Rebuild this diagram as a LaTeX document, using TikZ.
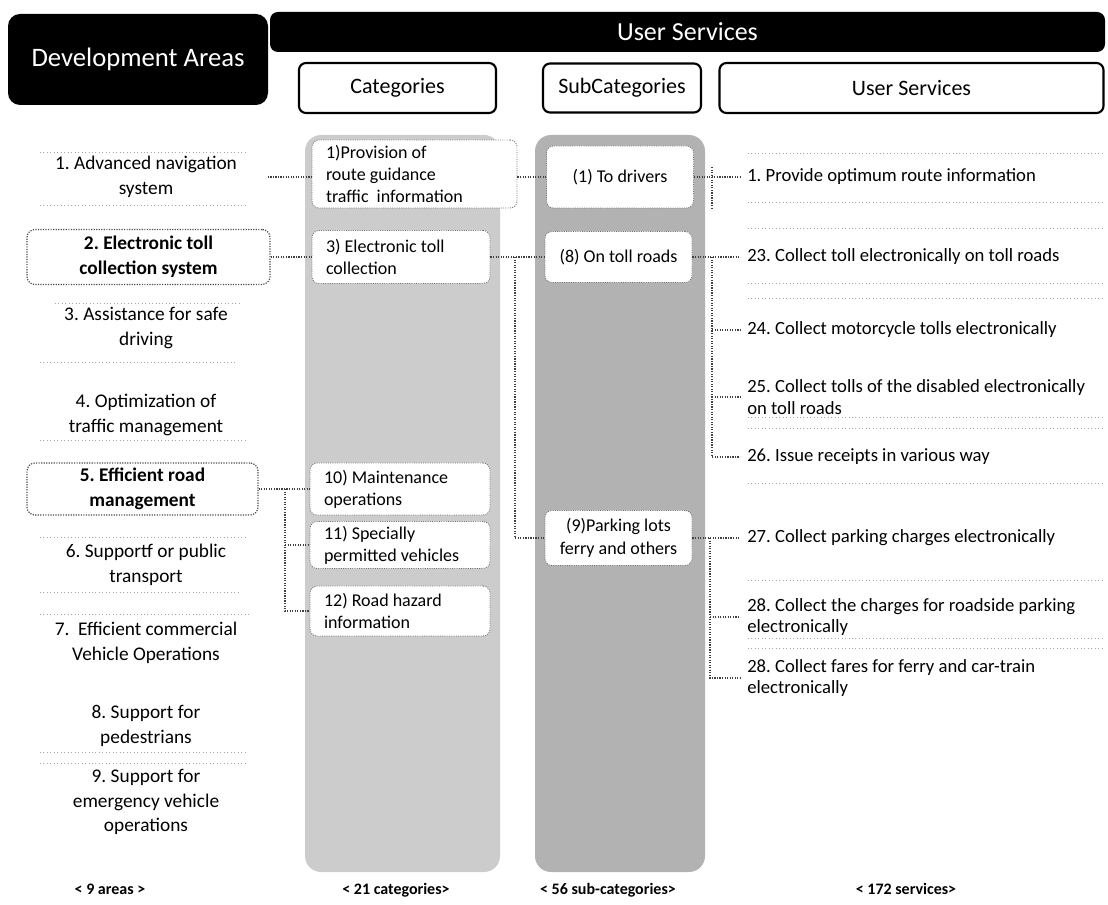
\documentclass[tikz,border=0pt]{standalone}
\usepackage{fontspec}
\setmainfont{Carlito}
\AtBeginDocument{\frenchspacing}
\newlength\pxu \setlength\pxu{0.75pt}
\definecolor{colA}{gray}{0.80}
\definecolor{colB}{gray}{0.70}
\begin{document}
\begin{tikzpicture}[x=0.75pt,y=-0.75pt,
  darkbox/.style={fill=black, text=white, inner sep=0pt},
  colhead/.style={draw=black, line width=1.6pt, fill=white, rounded corners=7\pxu,
    inner sep=0pt, font=\fontsize{16.5}{19}\selectfont},
  area/.style={minimum width=243\pxu, inner sep=0pt, align=center,
    font=\fontsize{14.5}{18.5}\selectfont},
  framed/.style={draw=black!70, densely dotted, line width=0.9pt, fill=white,
    rounded corners=8\pxu},
  cat/.style={fill=white, draw=black!55, densely dotted, line width=0.7pt,
    rounded corners=7\pxu, align=flush left, inner xsep=14\pxu, inner ysep=0pt,
    font=\fontsize{13.5}{16.5}\selectfont},
  sub/.style={fill=white, draw=black!55, densely dotted, line width=0.7pt,
    rounded corners=7\pxu, align=center, inner sep=0pt, minimum width=147\pxu,
    font=\fontsize{13.5}{17}\selectfont},
  svc/.style={anchor=west, align=flush left, inner xsep=7\pxu, inner ysep=0pt,
    font=\fontsize{14}{16}\selectfont},
  count/.style={font=\bfseries\fontsize{12}{14}\selectfont},
  link/.style={draw=black!75, densely dotted, line width=0.9pt},
  scan/.style={draw=black!35, dotted, line width=0.6pt}
]
\useasboundingbox (0,0) rectangle (1108,905);

% shaded columns behind categories and sub-categories
\fill[colA, rounded corners=16\pxu] (305,135) rectangle (500,872);
\fill[colB, rounded corners=16\pxu] (535,135) rectangle (705,872);

% title bars and column heads
\node[darkbox, rounded corners=12\pxu, minimum width=260\pxu, minimum height=91\pxu,
  font=\fontsize{20}{24}\selectfont] (dev) at (138,59.5) {Development Areas};
\node[darkbox, rounded corners=8\pxu, minimum width=835\pxu, minimum height=40\pxu,
  font=\fontsize{19.5}{23}\selectfont] (usr) at (687.5,32) {User Services};
\node[colhead, minimum width=197\pxu, minimum height=50\pxu] (hcat) at (397.5,88) {Categories};
\node[colhead, minimum width=158\pxu, minimum height=49\pxu] (hsub) at (622,88) {SubCategories};
\node[colhead, minimum width=384\pxu, minimum height=50\pxu] (hsvc) at (911.5,88) {User Services};

% development areas
\node[area] (d1) at (146,177) {1. Advanced navigation\\system};
\node[area, framed, minimum height=55\pxu] (d2) at (148.5,257)
  {\bfseries 2. Electronic toll\\\bfseries collection system};
\node[area] (d3) at (146,328) {3. Assistance for safe\\driving};
\node[area] (d4) at (146,415) {4. Optimization of\\traffic management};
\node[area, framed, minimum width=231\pxu, minimum height=52\pxu] (d5) at (142.5,489)
  {\bfseries 5. Efficient road\\\bfseries management};
\node[area] (d6) at (146,565) {6. Supportf or public\\transport};
\node[area] (d7) at (146,643) {7.~ Efficient commercial\\Vehicle Operations};
\node[area] (d8) at (146,726) {8. Support for\\pedestrians};
\node[area] (d9) at (146,802) {9. Support for\\emergency vehicle\\operations};

% categories
\node[cat, text width=177\pxu, minimum height=68\pxu] (c1) at (414.5,174)
  {1)Provision of\\route guidance\\traffic~ information};
\node[cat, text width=150\pxu, minimum height=53\pxu] (c3) at (401,257)
  {3) Electronic toll\\collection};
\node[cat, text width=152\pxu, minimum height=52\pxu] (c10) at (400,489)
  {10) Maintenance\\operations};
\node[cat, text width=152\pxu, minimum height=47\pxu] (c11) at (400,545)
  {11) Specially\\permitted vehicles};
\node[cat, text width=152\pxu, minimum height=50\pxu] (c12) at (400,611)
  {12) Road hazard\\information};

% sub-categories
\node[sub, minimum height=62\pxu] (s1) at (620,177) {(1) To drivers};
\node[sub, minimum height=51\pxu] (s8) at (618.5,257) {(8) On toll roads};
\node[sub, minimum height=55\pxu] (s9) at (618.5,538) {(9)Parking lots\\ferry and others};

% user services
\node[svc] (u1)  at (740,177) {1. Provide optimum route information};
\node[svc] (u23) at (740,257) {23. Collect toll electronically on toll roads};
\node[svc] (u24) at (740,330) {24. Collect motorcycle tolls electronically};
\node[svc] (u25) at (740,397) {25. Collect tolls of the disabled electronically\\on toll roads};
\node[svc] (u26) at (740,457) {26. Issue receipts in various way};
\node[svc] (u27) at (740,538) {27. Collect parking charges electronically};
\node[svc] (u28a) at (740,617) {28. Collect the charges for roadside parking\\electronically};
\node[svc] (u28b) at (740,678) {28. Collect fares for ferry and car-train\\electronically};

% totals
\node[count] (n1) at (110,889) {< 9 areas >};
\node[count] (n2) at (396,890) {< 21 categories>};
\node[count] (n3) at (608,890) {< 56 sub-categories>};
\node[count] (n4) at (906,889) {< 172 services>};

% connectors: areas to categories
\draw[link] (d1.east) -- (d1.east -| c1.west);
\draw[link] (d2.east) -- (c3.west);
\coordinate (j5) at (285,489);
\draw[link] (d5.east) -- (c10.west);
\draw[link] (j5) |- (c12.west);
\draw[link] (c11.west -| j5) -- (c11.west);

% connectors: categories to sub-categories
\draw[link] (s1.west -| c1.east) -- (s1.west);
\coordinate (j3) at (515,257);
\draw[link] (c3.east) -- (s8.west);
\draw[link] (j3) |- (s9.west);

% connectors: sub-categories to user services
\coordinate (j1a) at (712,167);
\coordinate (j1b) at (712,210);
\draw[link] (s1.east) -- (s1.east -| u1.west);
\draw[link] (j1a) -- (j1b);
\coordinate (j8) at (712,257);
\draw[link] (s8.east) -- (u23.west);
\draw[link] (j8) |- (u26.west);
\draw[link] (j8 |- u24.west) -- (u24.west);
\draw[link] (j8 |- u25.west) -- (u25.west);
\coordinate (j9) at (710,538);
\draw[link] (s9.east) -- (u27.west);
\draw[link] (j9) |- (u28b.west);
\draw[link] (j9 |- u28a.west) -- (u28a.west);

% faint rules left around the area texts
\draw[scan] (40,152) -- (245,152);
\draw[scan] (40,205) -- (245,205);
\draw[scan] (55,303) -- (240,303);
\draw[scan] (40,362) -- (235,362);
\draw[scan] (40,440) -- (245,440);
\draw[scan] (40,537) -- (245,537);
\draw[scan] (40,592) -- (240,592);
\draw[scan] (40,614) -- (250,614);
\draw[scan] (40,752) -- (245,752);
\draw[scan] (40,763) -- (245,763);

% faint rules between the user services
\foreach \yy in {153,202,228,283,298,417,428,483,580,638,648}
  \draw[scan] (748,\yy) -- (1103,\yy);
\end{tikzpicture}
\end{document}
